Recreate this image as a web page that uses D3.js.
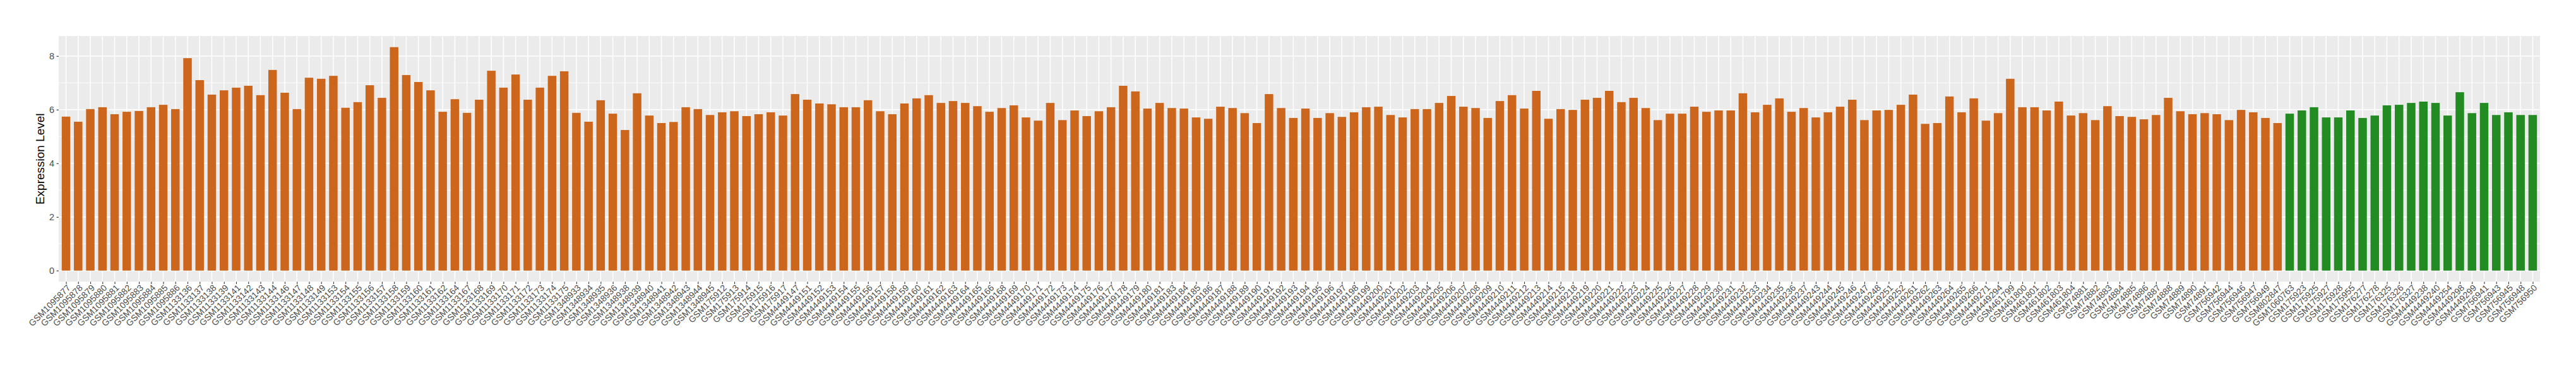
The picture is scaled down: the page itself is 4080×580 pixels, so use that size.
<!DOCTYPE html>
<html><head><meta charset="utf-8">
<script src="https://cdn.jsdelivr.net/npm/d3@7/dist/d3.min.js"></script>
<style>
body{margin:0;background:#fff;}
svg{display:block;font-family:"Liberation Sans",Arial,Helvetica,sans-serif;}
</style>
</head><body>
<svg id="chart" width="4080" height="580"></svg>
<script>
// ---- data ----
const samplesA = [
"GSM1095877","GSM1095878","GSM1095879","GSM1095880","GSM1095881","GSM1095882","GSM1095883","GSM1095884","GSM1095885","GSM1095886",
"GSM1133136","GSM1133137","GSM1133138","GSM1133139","GSM1133141","GSM1133142","GSM1133143","GSM1133144","GSM1133146","GSM1133147",
"GSM1133148","GSM1133149","GSM1133153","GSM1133154","GSM1133155","GSM1133156","GSM1133157","GSM1133158","GSM1133159","GSM1133160",
"GSM1133161","GSM1133162","GSM1133164","GSM1133167","GSM1133168","GSM1133169","GSM1133170","GSM1133171","GSM1133172","GSM1133173",
"GSM1133174","GSM1133175",
"GSM1348933","GSM1348934","GSM1348935","GSM1348936","GSM1348938","GSM1348939","GSM1348940","GSM1348941","GSM1348942","GSM1348943",
"GSM1348944","GSM1348945",
"GSM175912","GSM175913","GSM175914","GSM175915","GSM175916","GSM175917",
"GSM4449147","GSM4449151","GSM4449152","GSM4449153","GSM4449154","GSM4449155","GSM4449156","GSM4449157","GSM4449158","GSM4449159",
"GSM4449160","GSM4449161","GSM4449162","GSM4449163","GSM4449164","GSM4449165","GSM4449166","GSM4449168","GSM4449169","GSM4449170",
"GSM4449171","GSM4449172","GSM4449173","GSM4449174","GSM4449175","GSM4449176","GSM4449177","GSM4449178","GSM4449179","GSM4449180",
"GSM4449181","GSM4449183","GSM4449184","GSM4449185","GSM4449186","GSM4449187","GSM4449188","GSM4449189","GSM4449190","GSM4449191",
"GSM4449192","GSM4449193","GSM4449194","GSM4449195","GSM4449196","GSM4449197","GSM4449198","GSM4449199","GSM4449200","GSM4449201",
"GSM4449202","GSM4449203","GSM4449204","GSM4449205","GSM4449206","GSM4449207","GSM4449208","GSM4449209","GSM4449210","GSM4449211",
"GSM4449212","GSM4449213","GSM4449214","GSM4449215","GSM4449218","GSM4449219","GSM4449220","GSM4449221","GSM4449222","GSM4449223",
"GSM4449224","GSM4449225","GSM4449226","GSM4449227","GSM4449228","GSM4449229","GSM4449230","GSM4449231","GSM4449232","GSM4449233",
"GSM4449234","GSM4449235","GSM4449236","GSM4449237","GSM4449243","GSM4449244","GSM4449245","GSM4449246","GSM4449247","GSM4449248",
"GSM4449251","GSM4449252","GSM4449261","GSM4449262","GSM4449263","GSM4449264","GSM4449265","GSM4449266","GSM4449271","GSM4449294",
"GSM461799","GSM461800","GSM461801","GSM461802","GSM461803","GSM461804",
"GSM74881","GSM74882","GSM74883","GSM74884","GSM74885","GSM74886","GSM74887","GSM74888","GSM74889","GSM74890","GSM74891",
"GSM756942","GSM756944","GSM756946","GSM756947","GSM756949",
"GSM802847"
];
const valuesA = [
5.74,5.55,6.02,6.09,5.83,5.92,5.95,6.09,6.18,6.02,
7.92,7.10,6.56,6.72,6.82,6.89,6.54,7.48,6.63,6.02,
7.19,7.15,7.26,6.07,6.28,6.91,6.44,8.33,7.29,7.03,
6.72,5.92,6.39,5.88,6.37,7.45,6.82,7.31,6.37,6.82,
7.26,7.43,5.88,5.55,6.35,5.85,5.24,6.61,5.78,5.50,
5.54,6.09,6.02,5.80,5.90,5.94,5.76,5.83,5.90,5.78,
6.58,6.37,6.23,6.20,6.09,6.09,6.35,5.94,5.83,6.23,
6.42,6.54,6.25,6.32,6.25,6.13,5.92,6.06,6.16,5.71,
5.59,6.25,5.61,5.97,5.76,5.94,6.09,6.89,6.68,6.04,
6.25,6.06,6.04,5.71,5.66,6.11,6.06,5.87,5.50,6.58,
6.06,5.69,6.04,5.69,5.87,5.73,5.90,6.09,6.11,5.80,
5.71,6.02,6.02,6.25,6.51,6.11,6.06,5.69,6.32,6.54,
6.04,6.70,5.66,6.02,5.99,6.37,6.44,6.70,6.28,6.44,
6.06,5.61,5.85,5.85,6.11,5.92,5.97,5.97,6.61,5.90,
6.18,6.42,5.92,6.06,5.71,5.90,6.11,6.37,5.61,5.97,
5.99,6.18,6.56,5.47,5.50,6.49,5.90,6.42,5.59,5.87,
7.15,6.09,6.09,5.97,6.30,5.78,5.87,5.61,6.13,5.76,
5.73,5.64,5.80,6.44,5.94,5.83,5.87,5.83,5.61,5.99,
5.90,5.69,5.50
];
const samplesB = [
"GSM1060763","GSM175923","GSM175925","GSM175927","GSM175928","GSM175955","GSM176277","GSM176278","GSM176325","GSM176326",
"GSM176327","GSM4449238","GSM4449240","GSM4449254","GSM4449298","GSM4449299","GSM756941","GSM756943","GSM756945","GSM756948",
"GSM756950"
];
const valuesB = [
5.85,5.97,6.09,5.71,5.71,5.97,5.69,5.78,6.16,6.18,
6.25,6.30,6.25,5.78,6.65,5.87,6.25,5.80,5.90,5.80,
5.80
];
const groupColors = ["#CD661D", "#228B22"];
const yTickValues = [0, 2, 4, 6, 8];
const yMinorValues = [1, 3, 5, 7];
const yTitle = "Expression Level";

// ---- build ----
const data = samplesA.map((s, i) => ({name: s, value: valuesA[i], group: 0}))
  .concat(samplesB.map((s, i) => ({name: s, value: valuesB[i], group: 1})));

const panel = {left: 93, right: 4023, top: 57, bottom: 446.5};
const svg = d3.select("#chart");

const x = d3.scalePoint()
  .domain(data.map(d => d.name))
  .range([panel.left, panel.right])
  .padding(0.6);
const step = x.step();
const barW = step * 0.7;

const yMax = d3.max(data, d => d.value);
const y = d3.scaleLinear()
  .domain([-0.05 * yMax, 1.05 * yMax])
  .range([panel.bottom, panel.top]);

// panel background
svg.append("rect")
  .attr("x", panel.left).attr("y", panel.top)
  .attr("width", panel.right - panel.left)
  .attr("height", panel.bottom - panel.top)
  .attr("fill", "#EBEBEB");

// minor horizontal grid
svg.append("g").selectAll("line").data(yMinorValues).join("line")
  .attr("x1", panel.left).attr("x2", panel.right)
  .attr("y1", d => y(d)).attr("y2", d => y(d))
  .attr("stroke", "#fff").attr("stroke-width", 0.9);

// major horizontal grid
svg.append("g").selectAll("line").data(yTickValues).join("line")
  .attr("x1", panel.left).attr("x2", panel.right)
  .attr("y1", d => y(d)).attr("y2", d => y(d))
  .attr("stroke", "#fff").attr("stroke-width", 1.7);

// vertical grid
svg.append("g").selectAll("line").data(data).join("line")
  .attr("x1", d => x(d.name)).attr("x2", d => x(d.name))
  .attr("y1", panel.top).attr("y2", panel.bottom)
  .attr("stroke", "#fff").attr("stroke-width", 1.5);

// bars
svg.append("g").selectAll("rect").data(data).join("rect")
  .attr("x", d => x(d.name) - barW / 2)
  .attr("width", barW)
  .attr("y", d => y(d.value))
  .attr("height", d => y(0) - y(d.value))
  .attr("fill", d => groupColors[d.group]);

// y axis
const yAxis = d3.axisLeft(y).tickValues(yTickValues).tickSize(3.5).tickPadding(3.5).tickFormat(d3.format("d"));
const gy = svg.append("g").attr("transform", `translate(${panel.left},0)`).call(yAxis);
gy.select(".domain").remove();
gy.selectAll(".tick line").attr("stroke", "#333333").attr("stroke-width", 1.1);
gy.selectAll(".tick text").attr("fill", "#4D4D4D").style("font-size", "14.5px")
  .style("font-family", '"Liberation Sans",Arial,sans-serif');

// x axis
const xAxis = d3.axisBottom(x).tickSize(3.5).tickPadding(0);
const gx = svg.append("g").attr("transform", `translate(0,${panel.bottom})`).call(xAxis);
gx.select(".domain").remove();
gx.selectAll(".tick line").attr("stroke", "#333333").attr("stroke-width", 1.1);
gx.selectAll(".tick text")
  .attr("fill", "#4D4D4D")
  .style("font-size", "14px")
  .style("font-family", '"Liberation Sans",Arial,sans-serif')
  .attr("text-anchor", "end")
  .attr("y", 0).attr("dy", "0.75em")
  .attr("transform", "translate(0,3) rotate(-45)");

// y title
svg.append("text")
  .attr("transform", `translate(70,${(panel.top + panel.bottom) / 2}) rotate(-90)`)
  .attr("text-anchor", "middle")
  .attr("fill", "#000")
  .style("font-size", "19px")
  .text(yTitle);
</script>
</body></html>
